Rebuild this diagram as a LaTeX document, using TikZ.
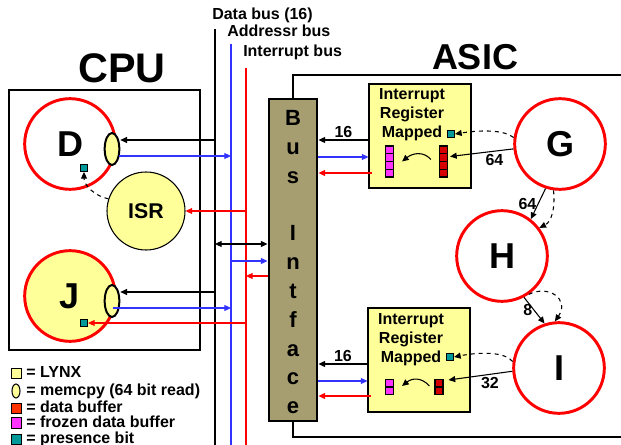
\documentclass[tikz,border=0pt]{standalone}
\usepackage{fontspec}
\setmainfont{Liberation Sans}
\usetikzlibrary{arrows.meta,positioning,calc,shapes.geometric}
\definecolor{lynxyellow}{RGB}{255,255,153}
\definecolor{busolive}{RGB}{166,158,112}
\definecolor{presteal}{RGB}{0,153,153}
\definecolor{bufred}{RGB}{214,0,0}
\definecolor{legendred}{RGB}{255,51,0}
\definecolor{frozenpink}{RGB}{255,51,255}
\definecolor{busblue}{RGB}{51,51,255}

\tikzset{
  boxframe/.style={draw, line width=2.2pt, inner sep=0pt},
  bigtitle/.style={font=\bfseries\fontsize{#1}{#1}\selectfont},
  task/.style={circle, draw=red, line width=2.2pt, inner sep=0pt, minimum size=68pt,
    font=\bfseries\fontsize{27}{27}\selectfont},
  memcpy/.style={ellipse, draw, fill=lynxyellow, line width=1.5pt, inner sep=0pt,
    minimum width=11pt, minimum height=24pt},
  presbit/.style={rectangle, draw, fill=presteal, line width=0.5pt, inner sep=0pt, minimum size=5.5pt},
  bufcol/.style={rectangle, draw, line width=0.8pt, inner sep=0pt, minimum width=6pt},
  regbox/.style={draw, fill=lynxyellow, line width=0.8pt, inner sep=0pt,
    minimum width=76.5pt, minimum height=78pt},
  regtext/.style={align=center, font=\bfseries\fontsize{12}{14.25}\selectfont},
  buslabel/.style={anchor=west, inner sep=0pt, font=\bfseries\fontsize{12}{12}\selectfont},
  numlabel/.style={inner sep=1pt, font=\bfseries\fontsize{12}{12}\selectfont},
  busletter/.style={anchor=base, inner sep=0pt, font=\bfseries\fontsize{16.5}{17}\selectfont},
  legtext/.style={anchor=west, inner sep=0pt, text height=9pt, text depth=2.5pt,
    font=\bfseries\fontsize{12}{12}\selectfont},
  dataline/.style={line width=0.8pt, black},
  addrline/.style={line width=0.8pt, busblue},
  intline/.style={line width=0.8pt, red},
  dashedarrow/.style={line width=0.8pt, dashed, ->},
}

\begin{document}
\begin{tikzpicture}[x=0.75pt, y=-0.75pt, >={Triangle[length=5pt,width=4.5pt]}]
\useasboundingbox (0,0) rectangle (621,445);

% frames
\node[boxframe, minimum width=143.25pt, minimum height=195pt] (cpu) at (104.5,220) {};
\node[bigtitle=31] (cputitle) at (122,68) {CPU};
\node[boxframe, minimum width=260.25pt, minimum height=271.5pt] (asic) at (466.5,256) {};
\node[bigtitle=27] (asictitle) at (475,57) {ASIC};

% buses
\node[buslabel] (dlabel) at (212,15) {Data bus (16)};
\node[buslabel] (alabel) at (227,31) {Addressr bus};
\node[buslabel] (ilabel) at (243,52) {Interrupt bus};
\coordinate (dbus) at (215,29);
\coordinate (abus) at (231,44);
\coordinate (ibus) at (246,68);
\coordinate (busend) at (0,450);
\draw[dataline] (dbus) -- (dbus |- busend);
\draw[addrline] (abus) -- (abus |- busend);
\draw[intline] (ibus) -- (ibus |- busend);

% bus interface
\node[boxframe, fill=busolive, minimum width=36pt, minimum height=241.5pt] (bif) at (293,260) {};
\foreach \ch [count=\k] in {B,u,s,{},I,n,t,f,a,c,e}
  \node[busletter] at (293,{126+(\k-1)*28.75}) {\ch};

% CPU tasks
\node[task, fill=white] (d) at (70,144) {D};
\node[task, fill=lynxyellow] (j) at (70,296) {J};
\node[circle, draw, fill=lynxyellow, line width=0.8pt, minimum size=58.5pt,
  font=\bfseries\fontsize{16}{16}\selectfont] (isr) at (146,211) {ISR};
\node[memcpy] (memD) at (112,149) {};
\node[memcpy] (memJ) at (112,301) {};
\node[presbit] (presD) at (84,168) {};
\node[presbit] (presJ) at (84,323) {};

\draw[dashedarrow] (isr.162) .. controls +(-12,-2) and +(0,14) .. (presD.south);

\coordinate (dDport) at ($(memD.east)+(0,-9)$);
\coordinate (aDport) at ($(memD.east)+(-1,7)$);
\coordinate (dJport) at ($(memJ.east)+(0,-9)$);
\coordinate (aJport) at ($(memJ.center)+(1,7)$);
\draw[dataline,->] (dDport -| dbus) -- (dDport);
\draw[addrline,->] (aDport) -- (aDport -| abus);
\draw[intline,->] (isr.east -| ibus) -- (isr.east);
\draw[dataline,->] (dJport -| dbus) -- (dJport);
\draw[addrline,->] (aJport) -- (aJport -| abus);
\draw[intline,->] (presJ.east -| ibus) -- (presJ.east);

% buses to bus interface
\coordinate (bifD) at ($(bif.west)+(0,-16)$);
\coordinate (bifA) at ($(bif.west)+(0,1)$);
\coordinate (bifI) at ($(bif.west)+(0,16)$);
\draw[dataline,<->] (bifD -| dbus) -- (bifD);
\draw[addrline,->] (bifA -| abus) -- (bifA);
\draw[intline,->] (bifI) -- (bifI -| ibus);

% interrupt registers
\node[regbox] (regTop) at (420,136) {};
\node[regbox] (regBot) at (419,360) {};
\node[regtext] (rtTop) at (412,115) {Interrupt\\Register\\Mapped};
\node[regtext] (rtBot) at (411,339.5) {Interrupt\\Register\\Mapped};
\node[presbit] (presTop) at (451,134) {};
\node[presbit] (presBot) at (450,357) {};
\node[bufcol, fill=frozenpink, minimum height=23.25pt] (fzTop) at (389.5,161.5) {};
\node[bufcol, fill=bufred, minimum height=23.25pt] (dbTop) at (443.5,161.5) {};
\node[bufcol, fill=frozenpink, minimum height=11pt] (fzBot) at (389.5,387) {};
\node[bufcol, fill=bufred, minimum height=11pt] (dbBot) at (439,387) {};
\foreach \b in {fzTop,dbTop}
  \foreach \k in {1,2,3}
    \draw[line width=0.8pt] ($(\b.north west)!\k/4!(\b.south west)$) -- ($(\b.north east)!\k/4!(\b.south east)$);
\foreach \b in {fzBot,dbBot}
  \draw[line width=0.8pt] (\b.west) -- (\b.east);
\draw[line width=0.8pt,->] ($(dbTop.west)+(-8,-2)$) .. controls +(-8,-9) and +(10,-8) .. ($(fzTop.east)+(8,0)$);
\draw[line width=0.8pt,->] ($(dbBot.west)+(-5,-1)$) .. controls +(-8,-9) and +(10,-8) .. ($(fzBot.east)+(8,-1)$);

% registers to bus interface
\coordinate (rTd) at ($(regTop.west)+(0,4)$);
\coordinate (rTa) at ($(regTop.west)+(0,21)$);
\coordinate (rTi) at ($(regTop.west)+(4,37)$);
\coordinate (rBd) at ($(regBot.west)+(0,4)$);
\coordinate (rBa) at ($(regBot.west)+(0,21)$);
\coordinate (rBi) at ($(regBot.west)+(4,36)$);
\draw[dataline,->] (rTd) -- node[above, numlabel] {16} (rTd -| bif.east);
\draw[addrline,->] (rTa -| bif.east) -- (rTa);
\draw[intline,->] (rTi) -- (rTi -| bif.east);
\draw[dataline,->] (rBd) -- node[above, numlabel] {16} (rBd -| bif.east);
\draw[addrline,->] (rBa -| bif.east) -- (rBa);
\draw[intline,->] (rBi) -- (rBi -| bif.east);

% ASIC tasks
\node[task, fill=white] (g) at (560,144) {G};
\node[task, fill=white] (h) at (502,256) {H};
\node[task, fill=white] (i) at (559,368) {I};

\draw[dataline,->] (g.186) -- node[pos=0.3, below=1pt, numlabel] {64} ($(dbTop.east)+(2,-5)$);
\draw[dashedarrow] (g.172) .. controls +(-10,-8) and +(25,-4) .. (presTop.east);
\draw[dataline,->] (g.252) -- node[left, numlabel] {64} (h.52);
\draw[dashedarrow] (g.262) .. controls +(2,18) and +(12,-6) .. (h.37);
\draw[dataline,->] (h.298) -- node[left, numlabel] {8} (i.108);
\draw[dashedarrow] (h.305) .. controls +(20,-10) and +(15,-22) .. (i.95);
\draw[dataline,->] (i.184) -- node[pos=0.35, below=1pt, numlabel] {32} ($(dbBot.east)+(5,-7)$);
\draw[dashedarrow] (i.172) .. controls +(-8,-10) and +(25,-5) .. (presBot.east);

% legend
\coordinate (legX) at (26,0);
\node[draw, fill=lynxyellow, line width=0.6pt, minimum width=7.5pt, minimum height=7.5pt, inner sep=0pt] (legLynx) at (16,373) {};
\node[ellipse, draw, fill=lynxyellow, line width=0.8pt, minimum width=6pt, minimum height=10.5pt, inner sep=0pt] (legMem) at (16,391) {};
\node[draw, fill=legendred, line width=0.6pt, minimum width=7.5pt, minimum height=8pt, inner sep=0pt] (legData) at (16,408.5) {};
\node[draw, fill=frozenpink, line width=0.6pt, minimum width=7.5pt, minimum height=8pt, inner sep=0pt] (legFrozen) at (16,423) {};
\node[draw, fill=presteal, line width=0.6pt, minimum width=7.5pt, minimum height=8pt, inner sep=0pt] (legPres) at (16,439.5) {};
\node[legtext] (legLynxT) at (legLynx -| legX) {= LYNX};
\node[legtext] (legMemT) at (legMem -| legX) {= memcpy (64 bit read)};
\node[legtext] (legDataT) at (legData -| legX) {= data buffer};
\node[legtext] (legFrozenT) at (legFrozen -| legX) {= frozen data buffer};
\node[legtext] (legPresT) at (legPres -| legX) {= presence bit};
\end{tikzpicture}
\end{document}
